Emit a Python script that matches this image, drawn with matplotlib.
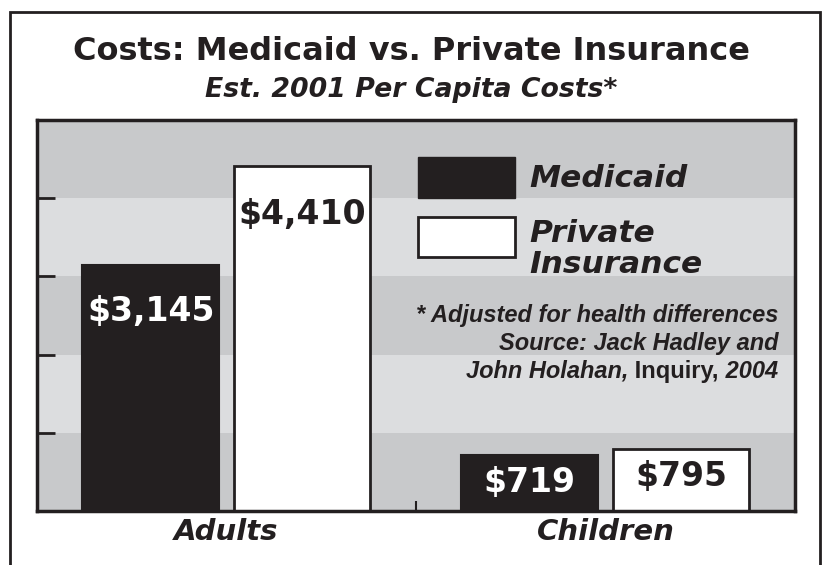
import numpy as np
import matplotlib.pyplot as plt
from matplotlib.patches import Rectangle
from matplotlib import font_manager as fm

groups = ['Adults', 'Children']
medicaid = [3145, 719]
private = [4410, 795]
medicaid_lbl = ['$3,145', '$719']
private_lbl = ['$4,410', '$795']

dark = '#231f20'
band_dark = '#c8c9cb'
band_light = '#dcdddf'


def arial_like(style):
    # pick the regular-width Liberation Sans file, not the Narrow one
    for f in fm.fontManager.ttflist:
        if f.name == 'Liberation Sans' and f.style == style and f.weight == 700 \
                and 'Narrow' not in f.fname:
            return fm.FontProperties(fname=f.fname, size=17)
    return fm.FontProperties(family='Liberation Sans', style=style, weight='bold', size=17)


fig = plt.figure(figsize=(8.22, 5.65), dpi=100)
ax = fig.add_axes([0.045, 0.0956, 0.922, 0.692])

# alternating bands
for i in range(5):
    ax.axhspan(i * 1000, (i + 1) * 1000, color=band_dark if i % 2 == 0 else band_light, zorder=0, lw=0)

xpos = np.array([0.5, 1.5])
width = 0.36
ax.bar(xpos - 0.2, medicaid, width=width, color=dark, edgecolor=dark, lw=1.5, zorder=2)
ax.bar(xpos + 0.2, private, width=width, color='white', edgecolor=dark, lw=2, zorder=2)

# value labels inside bars
for i in range(2):
    off = -40 if medicaid[i] > 2000 else -27
    ax.annotate(medicaid_lbl[i], (xpos[i] - 0.2, medicaid[i]), xytext=(0, off), textcoords='offset points',
                ha='center', va='baseline', color='white', fontsize=23.8, fontweight='bold', zorder=3)
    off = -42 if private[i] > 2000 else -27
    ax.annotate(private_lbl[i], (xpos[i] + 0.2, private[i]), xytext=(0, off), textcoords='offset points',
                ha='center', va='baseline', color=dark, fontsize=23.8, fontweight='bold', zorder=3)

ax.set_xlim(0, 2)
ax.set_ylim(0, 5000)
ax.set_yticks(np.arange(0, 5001, 1000))
ax.set_yticklabels([])
ax.set_xticks([1])
ax.set_xticklabels([])
ax.tick_params(axis='y', direction='in', length=13, width=2, color=dark)
ax.tick_params(axis='x', direction='in', length=7, width=1.5, color=dark)
for s in ax.spines.values():
    s.set_linewidth(2.5)
    s.set_color(dark)

for x, g in zip(xpos, groups):
    ax.text(x, -0.075, g, transform=ax.get_xaxis_transform(), ha='center', va='baseline',
            fontsize=21, fontweight='bold', style='italic', color=dark)

# legend drawn by hand
ax.add_patch(Rectangle((0.503, 0.801), 0.128, 0.104, transform=ax.transAxes, fc=dark, ec=dark, lw=1, zorder=3))
ax.add_patch(Rectangle((0.503, 0.650), 0.128, 0.102, transform=ax.transAxes, fc='white', ec=dark, lw=2, zorder=3))
leg_kw = dict(transform=ax.transAxes, ha='left', va='baseline', fontsize=22.5, fontweight='bold',
              style='italic', color=dark, zorder=3)
ax.text(0.650, 0.829, 'Medicaid', **leg_kw)
ax.text(0.650, 0.688, 'Private', **leg_kw)
ax.text(0.650, 0.609, 'Insurance', **leg_kw)

# titles
fig.text(0.5006, 0.894, 'Costs: Medicaid vs. Private Insurance', ha='center', va='baseline',
         fontsize=23, fontweight='bold', color=dark)
fig.text(0.5006, 0.828, 'Est. 2001 Per Capita Costs*', ha='center', va='baseline',
         fontsize=19.3, fontweight='bold', style='italic', color=dark)

# footnote
fp_it = arial_like('italic')
fp_up = arial_like('normal')
fn = dict(ha='right', va='baseline', color=dark)
xr = 0.9465
fig.text(xr, 0.430, '* Adjusted for health differences', fontproperties=fp_it, **fn)
fig.text(xr, 0.381, 'Source: Jack Hadley and', fontproperties=fp_it, **fn)
r = fig.canvas.get_renderer()
parts = [('John Holahan,', fp_it), (' Inquiry,', fp_up), (' 2004', fp_it)]
x = xr * fig.bbox.width
for txt, fp in reversed(parts):
    t = fig.text(x / fig.bbox.width, 0.331, txt, fontproperties=fp, **fn)
    x -= t.get_window_extent(r).width

# outer frame
fig.add_artist(Rectangle((10 / 822, -0.05), 810 / 822, 1.05 - 12 / 565, transform=fig.transFigure,
                         fill=False, ec=dark, lw=2))

fig.savefig('out.png', dpi=100)
